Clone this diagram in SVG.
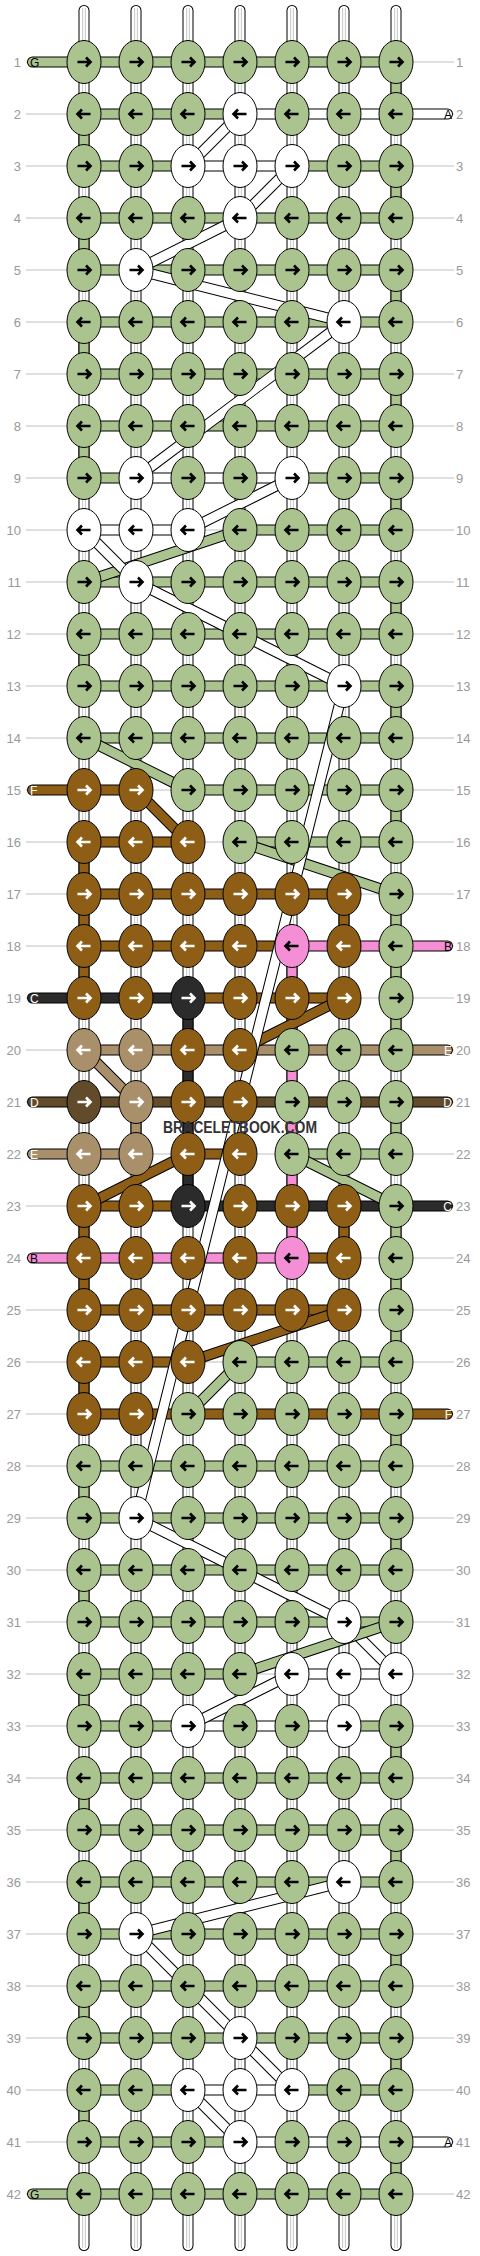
<svg xmlns="http://www.w3.org/2000/svg" xmlns:xlink="http://www.w3.org/1999/xlink" width="480" height="2256" viewBox="0 0 480 2256">
<style>
.n{font-family:"Liberation Sans",Arial,sans-serif;font-size:13px;fill:#999}
.cl{font-family:"Liberation Sans",Arial,sans-serif;font-size:12px}
.ll{fill:none;stroke:#c0c0c0;stroke-width:1}
.s1{stroke:#000;stroke-width:11;stroke-linecap:round}
.s2{stroke:#fff;stroke-width:9;stroke-linecap:round}
.s3{stroke:#cfcfcf;stroke-width:4}
.s4{stroke:#fff;stroke-width:1.6}
.o{fill:none;stroke:#000;stroke-width:11}
.b{fill:none;stroke-width:9}
.rc{stroke-linecap:round}
.sg{stroke:#abc48f}.sw{stroke:#fff}.sf{stroke:#8e5e16}.sp{stroke:#f48fd6}.sc{stroke:#2b2b2b}.se{stroke:#a98f6a}.sd{stroke:#614b2b}
.g{fill:#abc48f;color:#000}.w{fill:#fff;color:#000}.f{fill:#8e5e16;color:#fff}.p{fill:#f48fd6;color:#000}.c{fill:#2b2b2b;color:#fff}.e{fill:#a98f6a;color:#fff}.d{fill:#614b2b;color:#fff}
</style>
<defs>
<g id="R"><ellipse rx="17" ry="21.5" stroke="#000" stroke-width="1"/><path d="M-6.5 0H6.5M2-4.5L6.5 0 2 4.5" fill="none" stroke="currentColor" stroke-width="2.6"/></g>
<g id="L"><ellipse rx="17" ry="21.5" stroke="#000" stroke-width="1"/><path d="M6.5 0H-6.5M-2-4.5L-6.5 0-2 4.5" fill="none" stroke="currentColor" stroke-width="2.6"/></g>
</defs>
<rect width="480" height="2256" fill="#fff"/>
<g id="rowlines">
<path class="ll" d="M26 62H454M26 114H454M26 166H454M26 218H454M26 270H454M26 322H454M26 374H454M26 426H454M26 478H454M26 530H454M26 582H454M26 634H454M26 686H454M26 738H454M26 790H454M26 842H454M26 894H454M26 946H454M26 998H454M26 1050H454M26 1102H454M26 1154H454M26 1206H454M26 1258H454M26 1310H454M26 1362H454M26 1414H454M26 1466H454M26 1518H454M26 1570H454M26 1622H454M26 1674H454M26 1726H454M26 1778H454M26 1830H454M26 1882H454M26 1934H454M26 1986H454M26 2038H454M26 2090H454M26 2142H454M26 2194H454"/>
</g>
<g id="strings">
<path class="s1" d="M84 10.5V2245.5M136 10.5V2245.5M188 10.5V2245.5M240 10.5V2245.5M292 10.5V2245.5M344 10.5V2245.5M396 10.5V2245.5"/>
<path class="s2" d="M84 10.5V2245.5M136 10.5V2245.5M188 10.5V2245.5M240 10.5V2245.5M292 10.5V2245.5M344 10.5V2245.5M396 10.5V2245.5"/>
<path class="s3" d="M84 8V2248M136 8V2248M188 8V2248M240 8V2248M292 8V2248M344 8V2248M396 8V2248"/>
<path class="s4" d="M84 8V2248M136 8V2248M188 8V2248M240 8V2248M292 8V2248M344 8V2248M396 8V2248"/>
</g>
<g id="connectors">
<path class="o" d="M84 62H396M84 114H240M84 166H188M292 166H396M84 218H396M84 270H396M84 322H396M84 374H396M84 426H396M84 478H136M292 478H396M240 530H396M84 582H396M84 634H396M84 686H396M84 738H396M188 790H396M240 842H396M292 1154H396M240 1362H396M84 1466H396M84 1518H396M84 1570H396M84 1622H396M84 1674H240M84 1726H188M344 1726H396M84 1778H396M84 1830H396M84 1882H396M84 1934H396M84 1986H396M84 2038H396M84 2090H188M292 2090H396M84 2142H240M84 2194H396M396 62V114M396 166V218M396 270V322M396 374V426M396 478V530M396 582V634M396 686V738M396 790V842M396 894V1050M396 1102V1154M396 1206V1362M396 1414V1466M396 1518V1570M396 1726V1778M396 1830V1882M396 1934V1986M396 2038V2090M396 2142V2194M84 114V166M84 218V270M84 322V374M84 426V478M84 634V686M84 1466V1518M84 1570V1622M84 1674V1726M84 1778V1830M84 1882V1934M84 1986V2038M84 2090V2142M240 114H396M188 166H292M136 478H292M84 530H188M292 1674H396M188 1726H344M188 2090H292M240 2142H396M84 790H136M84 842H188M84 894H344M84 946H292M188 998H344M188 1154H240M84 1206H188M292 1258H344M84 1310H344M84 1362H188M84 1414H396M84 842V998M344 894V946M84 1206V1310M344 1206V1258M84 1362V1414M292 946H396M84 1258H292M292 946V1258M84 998H188M188 1206H396M188 998V1206M84 1050H396M84 1154H136M136 1102V1154M84 1102H396"/>
<path class="b sg" d="M84 62H396M84 114H240M84 166H188M292 166H396M84 218H396M84 270H396M84 322H396M84 374H396M84 426H396M84 478H136M292 478H396M240 530H396M84 582H396M84 634H396M84 686H396M84 738H396M188 790H396M240 842H396M292 1154H396M240 1362H396M84 1466H396M84 1518H396M84 1570H396M84 1622H396M84 1674H240M84 1726H188M344 1726H396M84 1778H396M84 1830H396M84 1882H396M84 1934H396M84 1986H396M84 2038H396M84 2090H188M292 2090H396M84 2142H240M84 2194H396M396 62V114M396 166V218M396 270V322M396 374V426M396 478V530M396 582V634M396 686V738M396 790V842M396 894V1050M396 1102V1154M396 1206V1362M396 1414V1466M396 1518V1570M396 1726V1778M396 1830V1882M396 1934V1986M396 2038V2090M396 2142V2194M84 114V166M84 218V270M84 322V374M84 426V478M84 634V686M84 1466V1518M84 1570V1622M84 1674V1726M84 1778V1830M84 1882V1934M84 1986V2038M84 2090V2142"/>
<path class="b sw" d="M240 114H396M188 166H292M136 478H292M84 530H188M292 1674H396M188 1726H344M188 2090H292M240 2142H396"/>
<path class="b sf" d="M84 790H136M84 842H188M84 894H344M84 946H292M188 998H344M188 1154H240M84 1206H188M292 1258H344M84 1310H344M84 1362H188M84 1414H396M84 842V998M344 894V946M84 1206V1310M344 1206V1258M84 1362V1414"/>
<path class="b sp" d="M292 946H396M84 1258H292M292 946V1258"/>
<path class="b sc" d="M84 998H188M188 1206H396M188 998V1206"/>
<path class="b se" d="M84 1050H396M84 1154H136M136 1102V1154"/>
<path class="b sd" d="M84 1102H396"/>
<path class="o rc" d="M32.5 62H84M32.5 790H84M32.5 998H84M32.5 1102H84M32.5 1154H84M32.5 1258H84M32.5 2194H84M396 114H447.5M396 946H447.5M396 1050H447.5M396 1102H447.5M396 1206H447.5M396 1414H447.5M396 2142H447.5"/>
<path class="b rc sg" d="M32.5 62H84M32.5 2194H84"/>
<path class="b rc sf" d="M32.5 790H84M396 1414H447.5"/>
<path class="b rc sc" d="M32.5 998H84M396 1206H447.5"/>
<path class="b rc sd" d="M32.5 1102H84M396 1102H447.5"/>
<path class="b rc se" d="M32.5 1154H84M396 1050H447.5"/>
<path class="b rc sp" d="M32.5 1258H84M396 946H447.5"/>
<path class="b rc sw" d="M396 114H447.5M396 2142H447.5"/>
<path class="o" d="M240 114L188 166"/><path class="b sw" d="M240 114L188 166"/>
<path class="o" d="M292 166L240 218"/><path class="b sw" d="M292 166L240 218"/>
<path class="o" d="M240 218L136 270"/><path class="b sw" d="M240 218L136 270"/>
<path class="o" d="M136 270L344 322"/><path class="b sw" d="M136 270L344 322"/>
<path class="o" d="M344 322L136 478"/><path class="b sw" d="M344 322L136 478"/>
<path class="o" d="M292 478L188 530"/><path class="b sw" d="M292 478L188 530"/>
<path class="o" d="M240 530L84 582"/><path class="b sg" d="M240 530L84 582"/>
<path class="o" d="M84 530L136 582"/><path class="b sw" d="M84 530L136 582"/>
<path class="o" d="M136 582L344 686"/><path class="b sw" d="M136 582L344 686"/>
<path class="o" d="M84 738L188 790"/><path class="b sg" d="M84 738L188 790"/>
<path class="o" d="M136 790L188 842"/><path class="b sf" d="M136 790L188 842"/>
<path class="o" d="M240 842L396 894"/><path class="b sg" d="M240 842L396 894"/>
<path class="o" d="M344 998L240 1050"/><path class="b sf" d="M344 998L240 1050"/>
<path class="o" d="M84 1050L136 1102"/><path class="b se" d="M84 1050L136 1102"/>
<path class="o" d="M188 1154L84 1206"/><path class="b sf" d="M188 1154L84 1206"/>
<path class="o" d="M292 1154L396 1206"/><path class="b sg" d="M292 1154L396 1206"/>
<path class="o" d="M344 1310L188 1362"/><path class="b sf" d="M344 1310L188 1362"/>
<path class="o" d="M240 1362L188 1414"/><path class="b sg" d="M240 1362L188 1414"/>
<path class="o" d="M344 686L136 1518"/><path class="b sw" d="M344 686L136 1518"/>
<path class="o" d="M136 1518L344 1622"/><path class="b sw" d="M136 1518L344 1622"/>
<path class="o" d="M344 1622L396 1674"/><path class="b sw" d="M344 1622L396 1674"/>
<path class="o" d="M396 1622L240 1674"/><path class="b sg" d="M396 1622L240 1674"/>
<path class="o" d="M292 1674L188 1726"/><path class="b sw" d="M292 1674L188 1726"/>
<path class="o" d="M344 1882L136 1934"/><path class="b sw" d="M344 1882L136 1934"/>
<path class="o" d="M136 1934L240 2038"/><path class="b sw" d="M136 1934L240 2038"/>
<path class="o" d="M240 2038L292 2090"/><path class="b sw" d="M240 2038L292 2090"/>
<path class="o" d="M188 2090L240 2142"/><path class="b sw" d="M188 2090L240 2142"/>
</g>
<g id="knots">
<g id="k1-1"><use href="#R" class="g" x="84" y="62"/></g><g id="k1-2"><use href="#R" class="g" x="136" y="62"/></g><g id="k1-3"><use href="#R" class="g" x="188" y="62"/></g><g id="k1-4"><use href="#R" class="g" x="240" y="62"/></g><g id="k1-5"><use href="#R" class="g" x="292" y="62"/></g><g id="k1-6"><use href="#R" class="g" x="344" y="62"/></g><g id="k1-7"><use href="#R" class="g" x="396" y="62"/></g>
<g id="k2-1"><use href="#L" class="g" x="84" y="114"/></g><g id="k2-2"><use href="#L" class="g" x="136" y="114"/></g><g id="k2-3"><use href="#L" class="g" x="188" y="114"/></g><g id="k2-4"><use href="#L" class="w" x="240" y="114"/></g><g id="k2-5"><use href="#L" class="g" x="292" y="114"/></g><g id="k2-6"><use href="#L" class="g" x="344" y="114"/></g><g id="k2-7"><use href="#L" class="g" x="396" y="114"/></g>
<g id="k3-1"><use href="#R" class="g" x="84" y="166"/></g><g id="k3-2"><use href="#R" class="g" x="136" y="166"/></g><g id="k3-3"><use href="#R" class="w" x="188" y="166"/></g><g id="k3-4"><use href="#R" class="w" x="240" y="166"/></g><g id="k3-5"><use href="#R" class="w" x="292" y="166"/></g><g id="k3-6"><use href="#R" class="g" x="344" y="166"/></g><g id="k3-7"><use href="#R" class="g" x="396" y="166"/></g>
<g id="k4-1"><use href="#L" class="g" x="84" y="218"/></g><g id="k4-2"><use href="#L" class="g" x="136" y="218"/></g><g id="k4-3"><use href="#L" class="g" x="188" y="218"/></g><g id="k4-4"><use href="#L" class="w" x="240" y="218"/></g><g id="k4-5"><use href="#L" class="g" x="292" y="218"/></g><g id="k4-6"><use href="#L" class="g" x="344" y="218"/></g><g id="k4-7"><use href="#L" class="g" x="396" y="218"/></g>
<g id="k5-1"><use href="#R" class="g" x="84" y="270"/></g><g id="k5-2"><use href="#R" class="w" x="136" y="270"/></g><g id="k5-3"><use href="#R" class="g" x="188" y="270"/></g><g id="k5-4"><use href="#R" class="g" x="240" y="270"/></g><g id="k5-5"><use href="#R" class="g" x="292" y="270"/></g><g id="k5-6"><use href="#R" class="g" x="344" y="270"/></g><g id="k5-7"><use href="#R" class="g" x="396" y="270"/></g>
<g id="k6-1"><use href="#L" class="g" x="84" y="322"/></g><g id="k6-2"><use href="#L" class="g" x="136" y="322"/></g><g id="k6-3"><use href="#L" class="g" x="188" y="322"/></g><g id="k6-4"><use href="#L" class="g" x="240" y="322"/></g><g id="k6-5"><use href="#L" class="g" x="292" y="322"/></g><g id="k6-6"><use href="#L" class="w" x="344" y="322"/></g><g id="k6-7"><use href="#L" class="g" x="396" y="322"/></g>
<g id="k7-1"><use href="#R" class="g" x="84" y="374"/></g><g id="k7-2"><use href="#R" class="g" x="136" y="374"/></g><g id="k7-3"><use href="#R" class="g" x="188" y="374"/></g><g id="k7-4"><use href="#R" class="g" x="240" y="374"/></g><g id="k7-5"><use href="#R" class="g" x="292" y="374"/></g><g id="k7-6"><use href="#R" class="g" x="344" y="374"/></g><g id="k7-7"><use href="#R" class="g" x="396" y="374"/></g>
<g id="k8-1"><use href="#L" class="g" x="84" y="426"/></g><g id="k8-2"><use href="#L" class="g" x="136" y="426"/></g><g id="k8-3"><use href="#L" class="g" x="188" y="426"/></g><g id="k8-4"><use href="#L" class="g" x="240" y="426"/></g><g id="k8-5"><use href="#L" class="g" x="292" y="426"/></g><g id="k8-6"><use href="#L" class="g" x="344" y="426"/></g><g id="k8-7"><use href="#L" class="g" x="396" y="426"/></g>
<g id="k9-1"><use href="#R" class="g" x="84" y="478"/></g><g id="k9-2"><use href="#R" class="w" x="136" y="478"/></g><g id="k9-3"><use href="#R" class="g" x="188" y="478"/></g><g id="k9-4"><use href="#R" class="g" x="240" y="478"/></g><g id="k9-5"><use href="#R" class="w" x="292" y="478"/></g><g id="k9-6"><use href="#R" class="g" x="344" y="478"/></g><g id="k9-7"><use href="#R" class="g" x="396" y="478"/></g>
<g id="k10-1"><use href="#L" class="w" x="84" y="530"/></g><g id="k10-2"><use href="#L" class="w" x="136" y="530"/></g><g id="k10-3"><use href="#L" class="w" x="188" y="530"/></g><g id="k10-4"><use href="#L" class="g" x="240" y="530"/></g><g id="k10-5"><use href="#L" class="g" x="292" y="530"/></g><g id="k10-6"><use href="#L" class="g" x="344" y="530"/></g><g id="k10-7"><use href="#L" class="g" x="396" y="530"/></g>
<g id="k11-1"><use href="#R" class="g" x="84" y="582"/></g><g id="k11-2"><use href="#R" class="w" x="136" y="582"/></g><g id="k11-3"><use href="#R" class="g" x="188" y="582"/></g><g id="k11-4"><use href="#R" class="g" x="240" y="582"/></g><g id="k11-5"><use href="#R" class="g" x="292" y="582"/></g><g id="k11-6"><use href="#R" class="g" x="344" y="582"/></g><g id="k11-7"><use href="#R" class="g" x="396" y="582"/></g>
<g id="k12-1"><use href="#L" class="g" x="84" y="634"/></g><g id="k12-2"><use href="#L" class="g" x="136" y="634"/></g><g id="k12-3"><use href="#L" class="g" x="188" y="634"/></g><g id="k12-4"><use href="#L" class="g" x="240" y="634"/></g><g id="k12-5"><use href="#L" class="g" x="292" y="634"/></g><g id="k12-6"><use href="#L" class="g" x="344" y="634"/></g><g id="k12-7"><use href="#L" class="g" x="396" y="634"/></g>
<g id="k13-1"><use href="#R" class="g" x="84" y="686"/></g><g id="k13-2"><use href="#R" class="g" x="136" y="686"/></g><g id="k13-3"><use href="#R" class="g" x="188" y="686"/></g><g id="k13-4"><use href="#R" class="g" x="240" y="686"/></g><g id="k13-5"><use href="#R" class="g" x="292" y="686"/></g><g id="k13-6"><use href="#R" class="w" x="344" y="686"/></g><g id="k13-7"><use href="#R" class="g" x="396" y="686"/></g>
<g id="k14-1"><use href="#L" class="g" x="84" y="738"/></g><g id="k14-2"><use href="#L" class="g" x="136" y="738"/></g><g id="k14-3"><use href="#L" class="g" x="188" y="738"/></g><g id="k14-4"><use href="#L" class="g" x="240" y="738"/></g><g id="k14-5"><use href="#L" class="g" x="292" y="738"/></g><g id="k14-6"><use href="#L" class="g" x="344" y="738"/></g><g id="k14-7"><use href="#L" class="g" x="396" y="738"/></g>
<g id="k15-1"><use href="#R" class="f" x="84" y="790"/></g><g id="k15-2"><use href="#R" class="f" x="136" y="790"/></g><g id="k15-3"><use href="#R" class="g" x="188" y="790"/></g><g id="k15-4"><use href="#R" class="g" x="240" y="790"/></g><g id="k15-5"><use href="#R" class="g" x="292" y="790"/></g><g id="k15-6"><use href="#R" class="g" x="344" y="790"/></g><g id="k15-7"><use href="#R" class="g" x="396" y="790"/></g>
<g id="k16-1"><use href="#L" class="f" x="84" y="842"/></g><g id="k16-2"><use href="#L" class="f" x="136" y="842"/></g><g id="k16-3"><use href="#L" class="f" x="188" y="842"/></g><g id="k16-4"><use href="#L" class="g" x="240" y="842"/></g><g id="k16-5"><use href="#L" class="g" x="292" y="842"/></g><g id="k16-6"><use href="#L" class="g" x="344" y="842"/></g><g id="k16-7"><use href="#L" class="g" x="396" y="842"/></g>
<g id="k17-1"><use href="#R" class="f" x="84" y="894"/></g><g id="k17-2"><use href="#R" class="f" x="136" y="894"/></g><g id="k17-3"><use href="#R" class="f" x="188" y="894"/></g><g id="k17-4"><use href="#R" class="f" x="240" y="894"/></g><g id="k17-5"><use href="#R" class="f" x="292" y="894"/></g><g id="k17-6"><use href="#R" class="f" x="344" y="894"/></g><g id="k17-7"><use href="#R" class="g" x="396" y="894"/></g>
<g id="k18-1"><use href="#L" class="f" x="84" y="946"/></g><g id="k18-2"><use href="#L" class="f" x="136" y="946"/></g><g id="k18-3"><use href="#L" class="f" x="188" y="946"/></g><g id="k18-4"><use href="#L" class="f" x="240" y="946"/></g><g id="k18-5"><use href="#L" class="p" x="292" y="946"/></g><g id="k18-6"><use href="#L" class="f" x="344" y="946"/></g><g id="k18-7"><use href="#L" class="g" x="396" y="946"/></g>
<g id="k19-1"><use href="#R" class="f" x="84" y="998"/></g><g id="k19-2"><use href="#R" class="f" x="136" y="998"/></g><g id="k19-3"><use href="#R" class="c" x="188" y="998"/></g><g id="k19-4"><use href="#R" class="f" x="240" y="998"/></g><g id="k19-5"><use href="#R" class="f" x="292" y="998"/></g><g id="k19-6"><use href="#R" class="f" x="344" y="998"/></g><g id="k19-7"><use href="#R" class="g" x="396" y="998"/></g>
<g id="k20-1"><use href="#L" class="e" x="84" y="1050"/></g><g id="k20-2"><use href="#L" class="e" x="136" y="1050"/></g><g id="k20-3"><use href="#L" class="f" x="188" y="1050"/></g><g id="k20-4"><use href="#L" class="f" x="240" y="1050"/></g><g id="k20-5"><use href="#L" class="g" x="292" y="1050"/></g><g id="k20-6"><use href="#L" class="g" x="344" y="1050"/></g><g id="k20-7"><use href="#L" class="g" x="396" y="1050"/></g>
<g id="k21-1"><use href="#R" class="d" x="84" y="1102"/></g><g id="k21-2"><use href="#R" class="e" x="136" y="1102"/></g><g id="k21-3"><use href="#R" class="f" x="188" y="1102"/></g><g id="k21-4"><use href="#R" class="f" x="240" y="1102"/></g><g id="k21-5"><use href="#R" class="g" x="292" y="1102"/></g><g id="k21-6"><use href="#R" class="g" x="344" y="1102"/></g><g id="k21-7"><use href="#R" class="g" x="396" y="1102"/></g>
<g id="k22-1"><use href="#L" class="e" x="84" y="1154"/></g><g id="k22-2"><use href="#L" class="e" x="136" y="1154"/></g><g id="k22-3"><use href="#L" class="f" x="188" y="1154"/></g><g id="k22-4"><use href="#L" class="f" x="240" y="1154"/></g><g id="k22-5"><use href="#L" class="g" x="292" y="1154"/></g><g id="k22-6"><use href="#L" class="g" x="344" y="1154"/></g><g id="k22-7"><use href="#L" class="g" x="396" y="1154"/></g>
<g id="k23-1"><use href="#R" class="f" x="84" y="1206"/></g><g id="k23-2"><use href="#R" class="f" x="136" y="1206"/></g><g id="k23-3"><use href="#R" class="c" x="188" y="1206"/></g><g id="k23-4"><use href="#R" class="f" x="240" y="1206"/></g><g id="k23-5"><use href="#R" class="f" x="292" y="1206"/></g><g id="k23-6"><use href="#R" class="f" x="344" y="1206"/></g><g id="k23-7"><use href="#R" class="g" x="396" y="1206"/></g>
<g id="k24-1"><use href="#L" class="f" x="84" y="1258"/></g><g id="k24-2"><use href="#L" class="f" x="136" y="1258"/></g><g id="k24-3"><use href="#L" class="f" x="188" y="1258"/></g><g id="k24-4"><use href="#L" class="f" x="240" y="1258"/></g><g id="k24-5"><use href="#L" class="p" x="292" y="1258"/></g><g id="k24-6"><use href="#L" class="f" x="344" y="1258"/></g><g id="k24-7"><use href="#L" class="g" x="396" y="1258"/></g>
<g id="k25-1"><use href="#R" class="f" x="84" y="1310"/></g><g id="k25-2"><use href="#R" class="f" x="136" y="1310"/></g><g id="k25-3"><use href="#R" class="f" x="188" y="1310"/></g><g id="k25-4"><use href="#R" class="f" x="240" y="1310"/></g><g id="k25-5"><use href="#R" class="f" x="292" y="1310"/></g><g id="k25-6"><use href="#R" class="f" x="344" y="1310"/></g><g id="k25-7"><use href="#R" class="g" x="396" y="1310"/></g>
<g id="k26-1"><use href="#L" class="f" x="84" y="1362"/></g><g id="k26-2"><use href="#L" class="f" x="136" y="1362"/></g><g id="k26-3"><use href="#L" class="f" x="188" y="1362"/></g><g id="k26-4"><use href="#L" class="g" x="240" y="1362"/></g><g id="k26-5"><use href="#L" class="g" x="292" y="1362"/></g><g id="k26-6"><use href="#L" class="g" x="344" y="1362"/></g><g id="k26-7"><use href="#L" class="g" x="396" y="1362"/></g>
<g id="k27-1"><use href="#R" class="f" x="84" y="1414"/></g><g id="k27-2"><use href="#R" class="f" x="136" y="1414"/></g><g id="k27-3"><use href="#R" class="g" x="188" y="1414"/></g><g id="k27-4"><use href="#R" class="g" x="240" y="1414"/></g><g id="k27-5"><use href="#R" class="g" x="292" y="1414"/></g><g id="k27-6"><use href="#R" class="g" x="344" y="1414"/></g><g id="k27-7"><use href="#R" class="g" x="396" y="1414"/></g>
<g id="k28-1"><use href="#L" class="g" x="84" y="1466"/></g><g id="k28-2"><use href="#L" class="g" x="136" y="1466"/></g><g id="k28-3"><use href="#L" class="g" x="188" y="1466"/></g><g id="k28-4"><use href="#L" class="g" x="240" y="1466"/></g><g id="k28-5"><use href="#L" class="g" x="292" y="1466"/></g><g id="k28-6"><use href="#L" class="g" x="344" y="1466"/></g><g id="k28-7"><use href="#L" class="g" x="396" y="1466"/></g>
<g id="k29-1"><use href="#R" class="g" x="84" y="1518"/></g><g id="k29-2"><use href="#R" class="w" x="136" y="1518"/></g><g id="k29-3"><use href="#R" class="g" x="188" y="1518"/></g><g id="k29-4"><use href="#R" class="g" x="240" y="1518"/></g><g id="k29-5"><use href="#R" class="g" x="292" y="1518"/></g><g id="k29-6"><use href="#R" class="g" x="344" y="1518"/></g><g id="k29-7"><use href="#R" class="g" x="396" y="1518"/></g>
<g id="k30-1"><use href="#L" class="g" x="84" y="1570"/></g><g id="k30-2"><use href="#L" class="g" x="136" y="1570"/></g><g id="k30-3"><use href="#L" class="g" x="188" y="1570"/></g><g id="k30-4"><use href="#L" class="g" x="240" y="1570"/></g><g id="k30-5"><use href="#L" class="g" x="292" y="1570"/></g><g id="k30-6"><use href="#L" class="g" x="344" y="1570"/></g><g id="k30-7"><use href="#L" class="g" x="396" y="1570"/></g>
<g id="k31-1"><use href="#R" class="g" x="84" y="1622"/></g><g id="k31-2"><use href="#R" class="g" x="136" y="1622"/></g><g id="k31-3"><use href="#R" class="g" x="188" y="1622"/></g><g id="k31-4"><use href="#R" class="g" x="240" y="1622"/></g><g id="k31-5"><use href="#R" class="g" x="292" y="1622"/></g><g id="k31-6"><use href="#R" class="w" x="344" y="1622"/></g><g id="k31-7"><use href="#R" class="g" x="396" y="1622"/></g>
<g id="k32-1"><use href="#L" class="g" x="84" y="1674"/></g><g id="k32-2"><use href="#L" class="g" x="136" y="1674"/></g><g id="k32-3"><use href="#L" class="g" x="188" y="1674"/></g><g id="k32-4"><use href="#L" class="g" x="240" y="1674"/></g><g id="k32-5"><use href="#L" class="w" x="292" y="1674"/></g><g id="k32-6"><use href="#L" class="w" x="344" y="1674"/></g><g id="k32-7"><use href="#L" class="w" x="396" y="1674"/></g>
<g id="k33-1"><use href="#R" class="g" x="84" y="1726"/></g><g id="k33-2"><use href="#R" class="g" x="136" y="1726"/></g><g id="k33-3"><use href="#R" class="w" x="188" y="1726"/></g><g id="k33-4"><use href="#R" class="g" x="240" y="1726"/></g><g id="k33-5"><use href="#R" class="g" x="292" y="1726"/></g><g id="k33-6"><use href="#R" class="w" x="344" y="1726"/></g><g id="k33-7"><use href="#R" class="g" x="396" y="1726"/></g>
<g id="k34-1"><use href="#L" class="g" x="84" y="1778"/></g><g id="k34-2"><use href="#L" class="g" x="136" y="1778"/></g><g id="k34-3"><use href="#L" class="g" x="188" y="1778"/></g><g id="k34-4"><use href="#L" class="g" x="240" y="1778"/></g><g id="k34-5"><use href="#L" class="g" x="292" y="1778"/></g><g id="k34-6"><use href="#L" class="g" x="344" y="1778"/></g><g id="k34-7"><use href="#L" class="g" x="396" y="1778"/></g>
<g id="k35-1"><use href="#R" class="g" x="84" y="1830"/></g><g id="k35-2"><use href="#R" class="g" x="136" y="1830"/></g><g id="k35-3"><use href="#R" class="g" x="188" y="1830"/></g><g id="k35-4"><use href="#R" class="g" x="240" y="1830"/></g><g id="k35-5"><use href="#R" class="g" x="292" y="1830"/></g><g id="k35-6"><use href="#R" class="g" x="344" y="1830"/></g><g id="k35-7"><use href="#R" class="g" x="396" y="1830"/></g>
<g id="k36-1"><use href="#L" class="g" x="84" y="1882"/></g><g id="k36-2"><use href="#L" class="g" x="136" y="1882"/></g><g id="k36-3"><use href="#L" class="g" x="188" y="1882"/></g><g id="k36-4"><use href="#L" class="g" x="240" y="1882"/></g><g id="k36-5"><use href="#L" class="g" x="292" y="1882"/></g><g id="k36-6"><use href="#L" class="w" x="344" y="1882"/></g><g id="k36-7"><use href="#L" class="g" x="396" y="1882"/></g>
<g id="k37-1"><use href="#R" class="g" x="84" y="1934"/></g><g id="k37-2"><use href="#R" class="w" x="136" y="1934"/></g><g id="k37-3"><use href="#R" class="g" x="188" y="1934"/></g><g id="k37-4"><use href="#R" class="g" x="240" y="1934"/></g><g id="k37-5"><use href="#R" class="g" x="292" y="1934"/></g><g id="k37-6"><use href="#R" class="g" x="344" y="1934"/></g><g id="k37-7"><use href="#R" class="g" x="396" y="1934"/></g>
<g id="k38-1"><use href="#L" class="g" x="84" y="1986"/></g><g id="k38-2"><use href="#L" class="g" x="136" y="1986"/></g><g id="k38-3"><use href="#L" class="g" x="188" y="1986"/></g><g id="k38-4"><use href="#L" class="g" x="240" y="1986"/></g><g id="k38-5"><use href="#L" class="g" x="292" y="1986"/></g><g id="k38-6"><use href="#L" class="g" x="344" y="1986"/></g><g id="k38-7"><use href="#L" class="g" x="396" y="1986"/></g>
<g id="k39-1"><use href="#R" class="g" x="84" y="2038"/></g><g id="k39-2"><use href="#R" class="g" x="136" y="2038"/></g><g id="k39-3"><use href="#R" class="g" x="188" y="2038"/></g><g id="k39-4"><use href="#R" class="w" x="240" y="2038"/></g><g id="k39-5"><use href="#R" class="g" x="292" y="2038"/></g><g id="k39-6"><use href="#R" class="g" x="344" y="2038"/></g><g id="k39-7"><use href="#R" class="g" x="396" y="2038"/></g>
<g id="k40-1"><use href="#L" class="g" x="84" y="2090"/></g><g id="k40-2"><use href="#L" class="g" x="136" y="2090"/></g><g id="k40-3"><use href="#L" class="w" x="188" y="2090"/></g><g id="k40-4"><use href="#L" class="w" x="240" y="2090"/></g><g id="k40-5"><use href="#L" class="w" x="292" y="2090"/></g><g id="k40-6"><use href="#L" class="g" x="344" y="2090"/></g><g id="k40-7"><use href="#L" class="g" x="396" y="2090"/></g>
<g id="k41-1"><use href="#R" class="g" x="84" y="2142"/></g><g id="k41-2"><use href="#R" class="g" x="136" y="2142"/></g><g id="k41-3"><use href="#R" class="g" x="188" y="2142"/></g><g id="k41-4"><use href="#R" class="w" x="240" y="2142"/></g><g id="k41-5"><use href="#R" class="g" x="292" y="2142"/></g><g id="k41-6"><use href="#R" class="g" x="344" y="2142"/></g><g id="k41-7"><use href="#R" class="g" x="396" y="2142"/></g>
<g id="k42-1"><use href="#L" class="g" x="84" y="2194"/></g><g id="k42-2"><use href="#L" class="g" x="136" y="2194"/></g><g id="k42-3"><use href="#L" class="g" x="188" y="2194"/></g><g id="k42-4"><use href="#L" class="g" x="240" y="2194"/></g><g id="k42-5"><use href="#L" class="g" x="292" y="2194"/></g><g id="k42-6"><use href="#L" class="g" x="344" y="2194"/></g><g id="k42-7"><use href="#L" class="g" x="396" y="2194"/></g>
</g>
<g id="thread-labels" class="cl">
<text x="30" y="66.5" fill="#000">G</text>
<text x="30" y="794.5" fill="#fff">F</text>
<text x="30" y="1002.5" fill="#fff">C</text>
<text x="30" y="1106.5" fill="#fff">D</text>
<text x="30" y="1158.5" fill="#fff">E</text>
<text x="30" y="1262.5" fill="#000">B</text>
<text x="30" y="2198.5" fill="#000">G</text>
<text x="452" y="118.5" fill="#000" text-anchor="end">A</text>
<text x="452" y="950.5" fill="#000" text-anchor="end">B</text>
<text x="452" y="1054.5" fill="#fff" text-anchor="end">E</text>
<text x="452" y="1106.5" fill="#fff" text-anchor="end">D</text>
<text x="452" y="1210.5" fill="#fff" text-anchor="end">C</text>
<text x="452" y="1418.5" fill="#fff" text-anchor="end">F</text>
<text x="452" y="2146.5" fill="#000" text-anchor="end">A</text>
</g>
<g id="row-numbers" class="n">
<g text-anchor="end">
<text x="21" y="66.5">1</text><text x="21" y="118.5">2</text><text x="21" y="170.5">3</text><text x="21" y="222.5">4</text><text x="21" y="274.5">5</text><text x="21" y="326.5">6</text><text x="21" y="378.5">7</text><text x="21" y="430.5">8</text><text x="21" y="482.5">9</text><text x="21" y="534.5">10</text><text x="21" y="586.5">11</text><text x="21" y="638.5">12</text><text x="21" y="690.5">13</text><text x="21" y="742.5">14</text><text x="21" y="794.5">15</text><text x="21" y="846.5">16</text><text x="21" y="898.5">17</text><text x="21" y="950.5">18</text><text x="21" y="1002.5">19</text><text x="21" y="1054.5">20</text><text x="21" y="1106.5">21</text><text x="21" y="1158.5">22</text><text x="21" y="1210.5">23</text><text x="21" y="1262.5">24</text><text x="21" y="1314.5">25</text><text x="21" y="1366.5">26</text><text x="21" y="1418.5">27</text><text x="21" y="1470.5">28</text><text x="21" y="1522.5">29</text><text x="21" y="1574.5">30</text><text x="21" y="1626.5">31</text><text x="21" y="1678.5">32</text><text x="21" y="1730.5">33</text><text x="21" y="1782.5">34</text><text x="21" y="1834.5">35</text><text x="21" y="1886.5">36</text><text x="21" y="1938.5">37</text><text x="21" y="1990.5">38</text><text x="21" y="2042.5">39</text><text x="21" y="2094.5">40</text><text x="21" y="2146.5">41</text><text x="21" y="2198.5">42</text>
</g>
<g>
<text x="456" y="66.5">1</text><text x="456" y="118.5">2</text><text x="456" y="170.5">3</text><text x="456" y="222.5">4</text><text x="456" y="274.5">5</text><text x="456" y="326.5">6</text><text x="456" y="378.5">7</text><text x="456" y="430.5">8</text><text x="456" y="482.5">9</text><text x="456" y="534.5">10</text><text x="456" y="586.5">11</text><text x="456" y="638.5">12</text><text x="456" y="690.5">13</text><text x="456" y="742.5">14</text><text x="456" y="794.5">15</text><text x="456" y="846.5">16</text><text x="456" y="898.5">17</text><text x="456" y="950.5">18</text><text x="456" y="1002.5">19</text><text x="456" y="1054.5">20</text><text x="456" y="1106.5">21</text><text x="456" y="1158.5">22</text><text x="456" y="1210.5">23</text><text x="456" y="1262.5">24</text><text x="456" y="1314.5">25</text><text x="456" y="1366.5">26</text><text x="456" y="1418.5">27</text><text x="456" y="1470.5">28</text><text x="456" y="1522.5">29</text><text x="456" y="1574.5">30</text><text x="456" y="1626.5">31</text><text x="456" y="1678.5">32</text><text x="456" y="1730.5">33</text><text x="456" y="1782.5">34</text><text x="456" y="1834.5">35</text><text x="456" y="1886.5">36</text><text x="456" y="1938.5">37</text><text x="456" y="1990.5">38</text><text x="456" y="2042.5">39</text><text x="456" y="2094.5">40</text><text x="456" y="2146.5">41</text><text x="456" y="2198.5">42</text>
</g>
</g>
<text x="240" y="1133" text-anchor="middle" font-family="Liberation Sans, Arial, sans-serif" font-weight="bold" font-size="16" textLength="154" lengthAdjust="spacingAndGlyphs" fill="#333">BRACELETBOOK.COM</text>
</svg>
